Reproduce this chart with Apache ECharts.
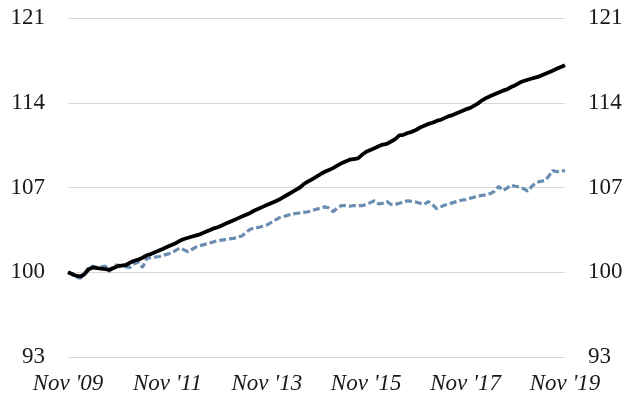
<!DOCTYPE html>
<html>
<head>
<meta charset="utf-8">
<script src="https://cdn.jsdelivr.net/npm/echarts@6/dist/echarts.min.js"></script>
<style>
  html, body { margin: 0; padding: 0; background: #fff; }
  #chart { width: 626px; height: 402px; }
</style>
</head>
<body>
<div id="chart"></div>
<script>
// month labels, Nov 2009 .. Nov 2019
var monthNames = ['Jan', 'Feb', 'Mar', 'Apr', 'May', 'Jun', 'Jul', 'Aug', 'Sep', 'Oct', 'Nov', 'Dec'];
var categories = [];
for (var k = 0; k <= 120; k++) {
  var m = (10 + k) % 12;
  var y = 2009 + Math.floor((10 + k) / 12);
  categories.push(monthNames[m] + " '" + String(y).slice(2));
}

var yTicks = [93, 100, 107, 114, 121];

var blackSeries = [
  100.0, 99.85, 99.7, 99.65, 99.85, 100.25, 100.4, 100.35, 100.3, 100.25,
  100.2, 100.35, 100.5, 100.55, 100.6, 100.8, 100.95, 101.05, 101.2, 101.4,
  101.5, 101.65, 101.8, 101.95, 102.1, 102.25, 102.4, 102.6, 102.75, 102.85,
  102.95, 103.05, 103.15, 103.3, 103.45, 103.6, 103.7, 103.85, 104.0, 104.15,
  104.3, 104.45, 104.6, 104.75, 104.9, 105.1, 105.25, 105.4, 105.55, 105.7,
  105.85, 106.0, 106.2, 106.4, 106.6, 106.8, 107.0, 107.3, 107.5, 107.7,
  107.9, 108.1, 108.3, 108.45, 108.6, 108.8, 109.0, 109.15, 109.3, 109.35,
  109.4, 109.7, 109.95, 110.1, 110.25, 110.4, 110.55, 110.6, 110.8, 111.0,
  111.3, 111.35, 111.5, 111.6, 111.75, 111.95, 112.1, 112.25, 112.35, 112.5,
  112.6, 112.75, 112.9, 113.0, 113.15, 113.3, 113.45, 113.55, 113.75, 113.95,
  114.2, 114.4, 114.55, 114.7, 114.85, 115.0, 115.1, 115.3, 115.45, 115.65,
  115.8, 115.9, 116.0, 116.1, 116.2, 116.35, 116.5, 116.65, 116.8, 116.95,
  117.1
];

var blueSeries = [
  100.0, 99.8, 99.6, 99.5, 99.9, 100.4, 100.5, 100.4, 100.45, 100.5,
  100.05, 100.55, 100.6, 100.5, 100.45, 100.4, 100.7, 100.85, 100.4, 101.15,
  101.2, 101.25, 101.3, 101.4, 101.5, 101.6, 101.8, 102.0, 101.85, 101.7,
  101.9, 102.1, 102.2, 102.3, 102.4, 102.5, 102.6, 102.65, 102.7, 102.75,
  102.8, 102.9, 103.0, 103.3, 103.55, 103.65, 103.7, 103.8, 103.9, 104.1,
  104.3, 104.5, 104.6, 104.7, 104.8, 104.85, 104.9, 104.95, 105.0, 105.1,
  105.2, 105.3, 105.4, 105.3, 105.0, 105.3, 105.5, 105.5, 105.45, 105.5,
  105.5, 105.5, 105.6, 105.75, 105.9, 105.65, 105.7, 105.85, 105.6, 105.6,
  105.7, 105.8, 105.9, 105.85, 105.8, 105.7, 105.6, 105.85, 105.6, 105.25,
  105.4, 105.55, 105.65, 105.75, 105.85, 105.95, 106.0, 106.1, 106.2, 106.3,
  106.35, 106.4, 106.5, 106.7, 107.1, 106.75, 106.95, 107.2, 107.1, 107.05,
  106.9, 106.7, 107.1, 107.4, 107.5, 107.55, 107.9, 108.4, 108.3, 108.35,
  108.4
];

var myChart = echarts.init(document.getElementById('chart'));

var yLabel = {
  color: '#1a1a1a',
  fontFamily: 'Liberation Serif',
  fontSize: 23,
  margin: 23
};

myChart.setOption({
  animation: false,
  grid: { left: 68, right: 61, top: 18, bottom: 45 },
  xAxis: {
    type: 'category',
    data: categories,
    boundaryGap: false,
    axisLine: { show: false },
    axisTick: { show: false },
    axisLabel: {
      interval: 23,
      color: '#1a1a1a',
      fontFamily: 'Liberation Serif',
      fontStyle: 'italic',
      fontSize: 23,
      margin: 15
    }
  },
  yAxis: [
    {
      type: 'value',
      min: yTicks[0],
      max: yTicks[yTicks.length - 1],
      interval: 7,
      axisLine: { show: false },
      axisTick: { show: false },
      splitLine: { lineStyle: { color: '#d9d9d9', width: 1 } },
      axisLabel: yLabel
    },
    {
      type: 'value',
      position: 'right',
      min: yTicks[0],
      max: yTicks[yTicks.length - 1],
      interval: 7,
      axisLine: { show: false },
      axisTick: { show: false },
      splitLine: { show: false },
      axisLabel: yLabel
    }
  ],
  series: [
    {
      type: 'line',
      data: blueSeries,
      symbol: 'none',
      z: 2,
      lineStyle: { color: '#6a8db1', width: 3.2, type: [7, 3] }
    },
    {
      type: 'line',
      data: blackSeries,
      symbol: 'none',
      z: 3,
      lineStyle: { color: '#000', width: 3.8 }
    }
  ]
});
</script>
</body>
</html>
